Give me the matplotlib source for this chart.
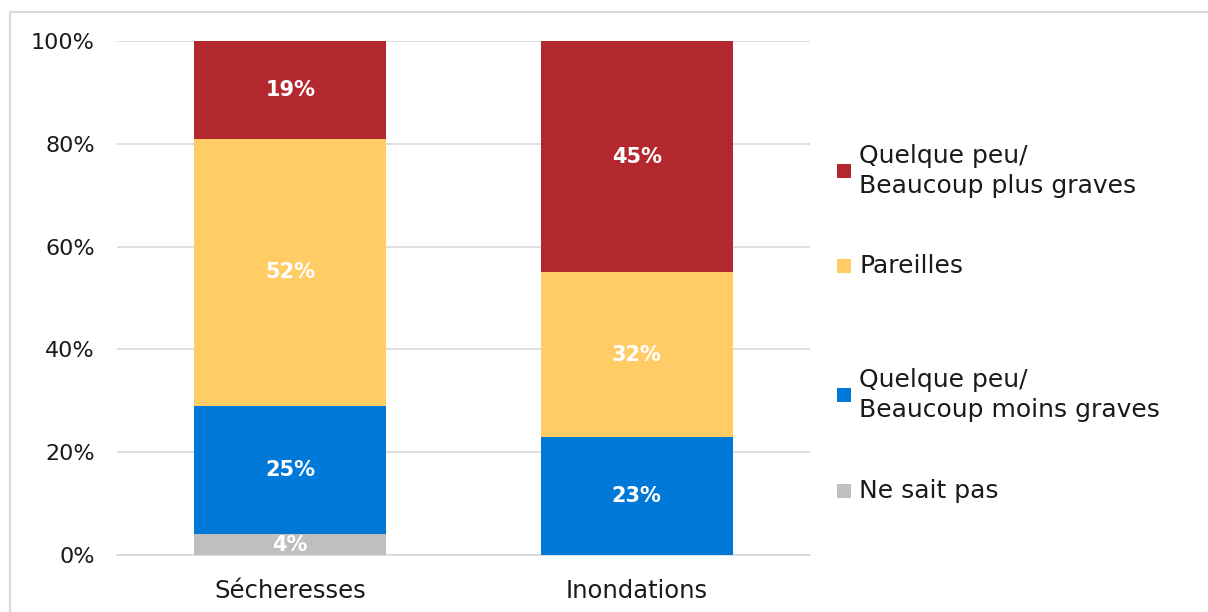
import numpy as np
import matplotlib
matplotlib.use('Agg')
import matplotlib.pyplot as plt
from matplotlib.patches import Rectangle

plt.rcParams['font.family'] = ['DejaVu Sans']

# ============ 数据 ============
CATEGORIES = ['Sécheresses', 'Inondations']
NE_SAIT_PAS = [4, 0]
MOINS_GRAVES = [25, 23]
PAREILLES = [52, 32]
PLUS_GRAVES = [19, 45]
SERIES_LABELS = ['Ne sait pas',
                 'Quelque peu/\nBeaucoup moins graves',
                 'Pareilles',
                 'Quelque peu/\nBeaucoup plus graves']
Y_TICKS = [0, 20, 40, 60, 80, 100]

COLORS = ['#BFBFBF', '#0078D7', '#FFCC66', '#B2282E']

fig = plt.figure(figsize=(12.08, 6.12), dpi=100)
ax = fig.add_axes([117 / 1208, 57 / 612, 693 / 1208, 514 / 612])

x = np.arange(len(CATEGORIES))
series = [NE_SAIT_PAS, MOINS_GRAVES, PAREILLES, PLUS_GRAVES]
bottom = np.zeros(len(CATEGORIES))
for vals, color in zip(series, COLORS):
    vals = np.array(vals, dtype=float)
    ax.bar(x, vals, bottom=bottom, width=0.555, color=color, zorder=3)
    for xi, v, b in zip(x, vals, bottom):
        if v > 0:
            ax.text(xi, b + v / 2, f'{int(v)}%', ha='center', va='center',
                    color='white', fontsize=15, fontweight='bold', zorder=4)
    bottom += vals

ax.set_xlim(-0.5, 1.5)
ax.set_ylim(0, 100)
ax.set_yticks(Y_TICKS)
ax.set_yticklabels([f'{t}%' for t in Y_TICKS])
ax.set_xticks(x)
ax.set_xticklabels(CATEGORIES)
ax.tick_params(axis='both', length=0, labelsize=16, colors='#1a1a1a')
ax.tick_params(axis='y', pad=16)
ax.tick_params(axis='x', pad=17, labelsize=17.5)
ax.grid(axis='y', color='#d9d9d9', linewidth=1.2, zorder=0)
for s in ['top', 'right', 'left']:
    ax.spines[s].set_visible(False)
ax.spines['bottom'].set_color('#d9d9d9')
ax.spines['bottom'].set_linewidth(1.2)

# 图例 (手动放置)
LEGEND_Y = [491, 395, 266, 171]
for label, color, ly in zip(SERIES_LABELS, COLORS, LEGEND_Y):
    fy = 1 - ly / 612
    fig.add_artist(Rectangle((837 / 1208, fy - 7 / 612), 14 / 1208, 14 / 612,
                             transform=fig.transFigure, facecolor=color,
                             edgecolor='none'))
    fig.text(859 / 1208, fy, label, ha='left', va='center', fontsize=18,
             color='#1a1a1a', linespacing=1.35)

# 外框
fig.add_artist(Rectangle((10 / 1208, -0.1), 1.2, 1.1 - 12 / 612,
                         transform=fig.transFigure, facecolor='none',
                         edgecolor='#d9d9d9', linewidth=1.5))

fig.savefig('out.png', dpi=100, facecolor='white')
